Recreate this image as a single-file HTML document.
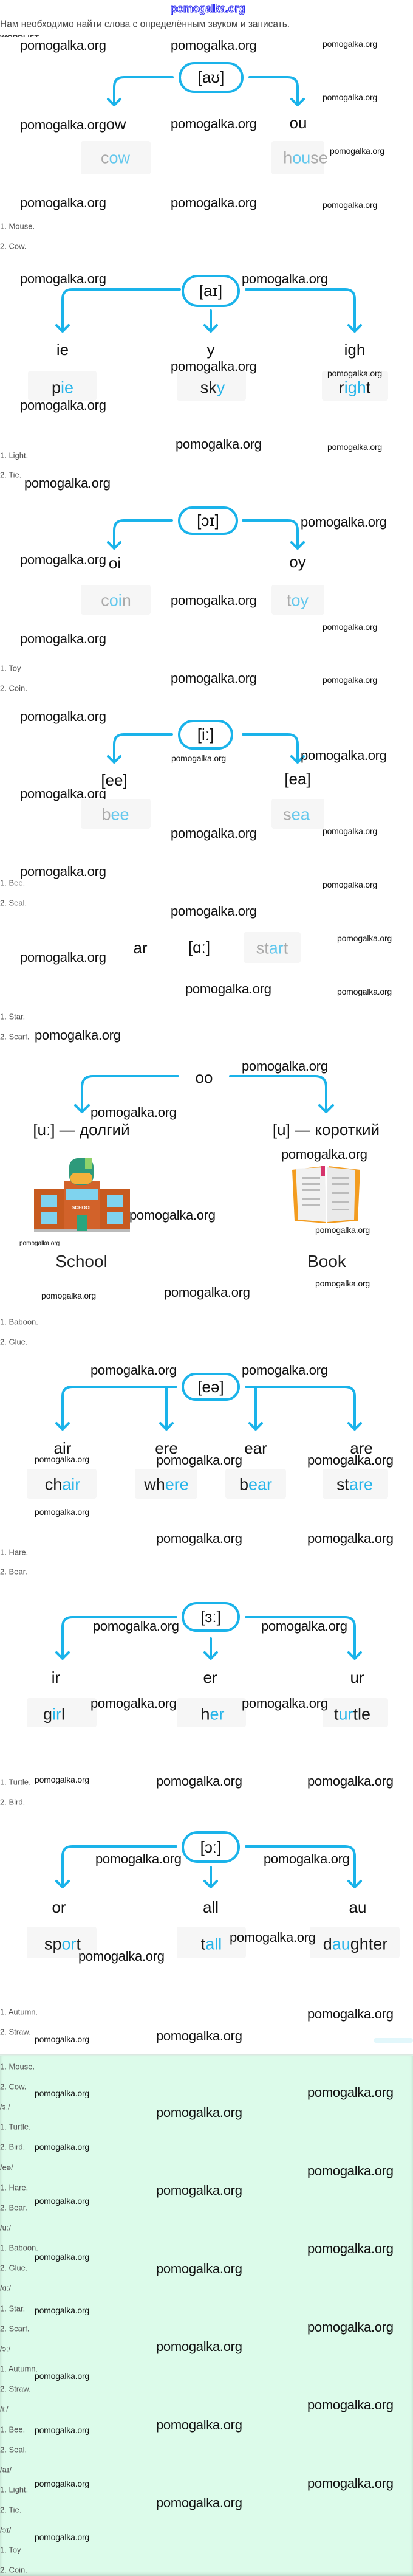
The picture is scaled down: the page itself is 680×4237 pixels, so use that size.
<!DOCTYPE html>
<html><head><meta charset="utf-8">
<style>
*{margin:0;padding:0;box-sizing:border-box}
body{width:680px;height:4237px;position:relative;background:#fff;font-family:"Liberation Sans",sans-serif;overflow:hidden}
.mint{position:absolute;left:0;top:3381px;width:680px;height:856px;background:#dcfbea;box-shadow:0 -3px 6px rgba(0,0,0,.15) inset}
.sh{position:absolute;left:0;top:3378px;width:680px;height:4px;background:linear-gradient(#ddd,#dcfbea)}
.t{position:absolute;transform:translate(-50%,-50%);white-space:nowrap;line-height:1}
.l{position:absolute;transform:translateY(-50%);white-space:nowrap;line-height:1}
.W{font-size:22px;letter-spacing:-0.3px;color:#111}
.w{font-size:14px;color:#111;letter-spacing:-0.2px}
.tw{font-size:10px;color:#111}
.p{font-size:13px;color:#555}
.lab{font-size:26px;color:#111}
.box{position:absolute;background:#f6f6f6;border-radius:4px}
.bw{font-size:27px;color:#1b1b1b}
.g{color:#aaa}
.b{color:#27b5ea}
.pill{position:absolute;border:4px solid #1ab3ea;border-radius:30px;display:flex;align-items:center;justify-content:center;font-size:26px;color:#111;background:#fff}
</style></head><body>

<div class="mint"></div>
<div class="sh"></div>

<svg style="position:absolute;left:0;top:0" width="680" height="4237" fill="none" stroke="#1ab3ea" stroke-width="4" stroke-linecap="round" stroke-linejoin="round">
<!-- S1 -->
<path d="M284 127 H204 Q188 127 188 143 V173 M178 163 L188 173 L198 163"/>
<path d="M411 127 H474 Q490 127 490 143 V173 M480 163 L490 173 L500 163"/>
<!-- S2 -->
<path d="M296 476 H119 Q103 476 103 492 V545 M93 535 L103 545 L113 535"/>
<path d="M405 476 H568 Q584 476 584 492 V545 M574 535 L584 545 L594 535"/>
<path d="M347 511 V545 M337 535 L347 545 L357 535"/>
<!-- S3 -->
<path d="M283 856 H204 Q188 856 188 872 V902 M178 892 L188 902 L198 892"/>
<path d="M400 856 H474 Q490 856 490 872 V902 M480 892 L490 902 L500 892"/>
<!-- S4 -->
<path d="M283 1208 H204 Q188 1208 188 1224 V1254 M178 1244 L188 1254 L198 1244"/>
<path d="M400 1208 H474 Q490 1208 490 1224 V1254 M480 1244 L490 1254 L500 1244"/>
<!-- S5 oo -->
<path d="M293 1770 H153 Q135 1770 135 1788 V1829 M124 1818 L135 1829 L146 1818"/>
<path d="M379 1770 H519 Q537 1770 537 1788 V1829 M526 1818 L537 1829 L548 1818"/>
<!-- S6 -->
<path d="M290 2281 H119 Q103 2281 103 2297 V2351 M93 2341 L103 2351 L113 2341"/>
<path d="M274 2281 V2351 M264 2341 L274 2351 L284 2341"/>
<path d="M405 2281 H568 Q584 2281 584 2297 V2351 M574 2341 L584 2351 L594 2341"/>
<path d="M421 2281 V2351 M411 2341 L421 2351 L431 2341"/>
<!-- S7 -->
<path d="M290 2660 H119 Q103 2660 103 2676 V2728 M93 2718 L103 2728 L113 2718"/>
<path d="M405 2660 H568 Q584 2660 584 2676 V2728 M574 2718 L584 2728 L594 2718"/>
<path d="M347 2695 V2728 M337 2718 L347 2728 L357 2718"/>
<!-- S8 -->
<path d="M290 3037 H119 Q103 3037 103 3053 V3104 M93 3094 L103 3104 L113 3094"/>
<path d="M405 3037 H568 Q584 3037 584 3053 V3104 M574 3094 L584 3104 L594 3094"/>
<path d="M347 3071 V3104 M337 3094 L347 3104 L357 3094"/>
</svg>

<!-- header -->
<div class="t" style="left:342px;top:14px;font-size:18px;color:#fff;-webkit-text-stroke:1px #2a2af0;font-weight:bold;letter-spacing:-0.5px">pomogalka.org</div>
<div class="l" style="left:0;top:40px;font-size:15.5px;color:#444">Нам необходимо найти слова с определённым звуком и записать.</div>
<div style="position:absolute;left:0;top:56px;height:5px;overflow:hidden;font-size:12px;font-weight:bold;color:#333;line-height:1">WORDLIST</div>

<!-- S1 -->
<div class="l W" style="left:33px;top:75px">pomogalka.org</div>
<div class="l W" style="left:281px;top:75px">pomogalka.org</div>
<div class="l w" style="left:531px;top:72px">pomogalka.org</div>
<div class="pill" style="left:294px;top:102px;width:107px;height:51px">[aʊ]</div>
<div class="l w" style="left:531px;top:160px">pomogalka.org</div>
<div class="l W" style="left:33px;top:204px">pomogalka.org<span class="lab">ow</span></div>
<div class="l W" style="left:281px;top:204px">pomogalka.org</div>
<div class="t lab" style="left:491px;top:202px">ou</div>
<div class="box" style="left:133px;top:232px;width:115px;height:55px"></div>
<div class="t bw" style="left:190px;top:260px"><span class="g">c</span><span class="b" style="opacity:.7">ow</span></div>
<div class="box" style="left:447px;top:232px;width:87px;height:55px"></div>
<div class="t bw" style="left:503px;top:260px"><span class="g">h</span><span class="b" style="opacity:.7">ou</span><span class="g">se</span></div>
<div class="l w" style="left:543px;top:248px">pomogalka.org</div>
<div class="l W" style="left:33px;top:334px">pomogalka.org</div>
<div class="l W" style="left:281px;top:334px">pomogalka.org</div>
<div class="l w" style="left:531px;top:337px">pomogalka.org</div>
<div class="l p" style="left:0;top:372px">1. Mouse.</div>
<div class="l p" style="left:0;top:405px">2. Cow.</div>

<!-- S2 -->
<div class="l W" style="left:33px;top:459px">pomogalka.org</div>
<div class="l W" style="left:398px;top:459px">pomogalka.org</div>
<div class="pill" style="left:299px;top:452px;width:96px;height:53px">[aɪ]</div>
<div class="t lab" style="left:103px;top:575px">ie</div>
<div class="t lab" style="left:347px;top:575px">y</div>
<div class="t lab" style="left:584px;top:575px">igh</div>
<div class="box" style="left:46px;top:610px;width:113px;height:49px"></div>
<div class="box" style="left:291px;top:610px;width:114px;height:49px"></div>
<div class="box" style="left:530px;top:610px;width:109px;height:49px"></div>
<div class="t bw" style="left:103px;top:638px">p<span class="b">ie</span></div>
<div class="t bw" style="left:350px;top:638px">sk<span class="b">y</span></div>
<div class="t bw" style="left:584px;top:638px">r<span class="b">igh</span>t</div>
<div class="l W" style="left:281px;top:603px">pomogalka.org</div>
<div class="l w" style="left:539px;top:614px">pomogalka.org</div>
<div class="l W" style="left:33px;top:667px">pomogalka.org</div>
<div class="l W" style="left:289px;top:731px">pomogalka.org</div>
<div class="l w" style="left:539px;top:735px">pomogalka.org</div>
<div class="l p" style="left:0;top:749px">1. Light.</div>
<div class="l p" style="left:0;top:781px">2. Tie.</div>
<div class="l W" style="left:40px;top:795px">pomogalka.org</div>

<!-- S3 -->
<div class="pill" style="left:293px;top:833px;width:99px;height:47px">[ɔɪ]</div>
<div class="l W" style="left:495px;top:859px">pomogalka.org</div>
<div class="l W" style="left:33px;top:921px">pomogalka.org</div>
<div class="t lab" style="left:189px;top:926px">oi</div>
<div class="t lab" style="left:490px;top:924px">oy</div>
<div class="box" style="left:133px;top:962px;width:115px;height:49px"></div>
<div class="box" style="left:447px;top:962px;width:87px;height:49px"></div>
<div class="t bw" style="left:191px;top:988px"><span class="g">c</span><span class="b" style="opacity:.7">oi</span><span class="g">n</span></div>
<div class="t bw" style="left:490px;top:988px"><span class="g">t</span><span class="b" style="opacity:.7">oy</span></div>
<div class="l W" style="left:281px;top:988px">pomogalka.org</div>
<div class="l w" style="left:531px;top:1031px">pomogalka.org</div>
<div class="l W" style="left:33px;top:1051px">pomogalka.org</div>
<div class="l p" style="left:0;top:1099px">1. Toy</div>
<div class="l W" style="left:281px;top:1116px">pomogalka.org</div>
<div class="l w" style="left:531px;top:1118px">pomogalka.org</div>
<div class="l p" style="left:0;top:1132px">2. Coin.</div>

<!-- S4 -->
<div class="l W" style="left:33px;top:1179px">pomogalka.org</div>
<div class="pill" style="left:293px;top:1184px;width:91px;height:49px">[iː]</div>
<div class="l w" style="left:282px;top:1247px">pomogalka.org</div>
<div class="l W" style="left:495px;top:1243px">pomogalka.org</div>
<div class="t lab" style="left:188px;top:1283px">[ee]</div>
<div class="t lab" style="left:490px;top:1281px">[ea]</div>
<div class="l W" style="left:33px;top:1306px">pomogalka.org</div>
<div class="box" style="left:133px;top:1314px;width:115px;height:49px"></div>
<div class="box" style="left:447px;top:1314px;width:87px;height:49px"></div>
<div class="t bw" style="left:190px;top:1340px"><span class="g">b</span><span class="b" style="opacity:.7">ee</span></div>
<div class="t bw" style="left:488px;top:1340px"><span class="g">s</span><span class="b" style="opacity:.7">ea</span></div>
<div class="l W" style="left:281px;top:1371px">pomogalka.org</div>
<div class="l w" style="left:531px;top:1367px">pomogalka.org</div>
<div class="l W" style="left:33px;top:1434px">pomogalka.org</div>
<div class="l p" style="left:0;top:1452px">1. Bee.</div>
<div class="l w" style="left:531px;top:1455px">pomogalka.org</div>
<div class="l p" style="left:0;top:1485px">2. Seal.</div>
<div class="l W" style="left:281px;top:1499px">pomogalka.org</div>

<!-- ar -->
<div class="t lab" style="left:231px;top:1559px">ar</div>
<div class="t lab" style="left:328px;top:1558px">[ɑː]</div>
<div class="box" style="left:401px;top:1533px;width:94px;height:51px"></div>
<div class="t bw" style="left:448px;top:1560px"><span class="g">st</span><span class="b" style="opacity:.7">ar</span><span class="g">t</span></div>
<div class="l w" style="left:555px;top:1543px">pomogalka.org</div>
<div class="l W" style="left:33px;top:1575px">pomogalka.org</div>
<div class="l W" style="left:305px;top:1627px">pomogalka.org</div>
<div class="l w" style="left:555px;top:1631px">pomogalka.org</div>
<div class="l p" style="left:0;top:1672px">1. Star.</div>
<div class="l p" style="left:0;top:1705px">2. Scarf.</div>
<div class="l W" style="left:57px;top:1703px">pomogalka.org</div>

<!-- oo -->
<div class="l W" style="left:398px;top:1754px">pomogalka.org</div>
<div class="t lab" style="left:336px;top:1772px;background:#fff;padding:0 4px">oo</div>
<div class="l W" style="left:149px;top:1830px">pomogalka.org</div>
<div class="t lab" style="left:134px;top:1858px">[uː] — долгий</div>
<div class="t lab" style="left:537px;top:1858px">[u] — короткий</div>
<div class="l W" style="left:463px;top:1899px">pomogalka.org</div>
<svg style="position:absolute;left:56px;top:1905px" width="158" height="124" viewBox="0 0 158 124">
 <rect x="0" y="50" width="158" height="70" fill="#c75a1f"/>
 <rect x="50" y="38" width="58" height="82" fill="#d2622a"/>
 <rect x="0" y="116" width="158" height="6" fill="#bbb"/>
 <rect x="58" y="0" width="40" height="44" rx="14" fill="#2e9a7b"/>
 <rect x="84" y="-2" width="12" height="20" fill="#8fd26a"/>
 <rect x="60" y="24" width="36" height="18" rx="8" fill="#f3b13b"/>
 <rect x="52" y="50" width="54" height="18" fill="#7fd3ee"/>
 <text x="79" y="84" font-size="8" fill="#fff" text-anchor="middle" font-family="Liberation Sans" font-weight="bold">SCHOOL</text>
 <rect x="70" y="94" width="18" height="26" fill="#2aa67e"/>
 <rect x="12" y="60" width="26" height="20" fill="#7fd3ee"/><rect x="12" y="88" width="26" height="20" fill="#7fd3ee"/>
 <rect x="120" y="60" width="26" height="20" fill="#7fd3ee"/><rect x="120" y="88" width="26" height="20" fill="#7fd3ee"/>
</svg>
<div class="l W" style="left:213px;top:1999px">pomogalka.org</div>
<svg style="position:absolute;left:477px;top:1916px" width="122" height="100" viewBox="0 0 122 100">
 <path d="M4 8 L56 2 L60 96 L8 92 Z" fill="#f39c1f"/>
 <path d="M64 2 L116 8 L112 92 L62 96 Z" fill="#f39c1f"/>
 <path d="M10 6 L58 4 L60 94 L14 90 Z" fill="#f1f1f1"/>
 <path d="M62 4 L108 8 L106 90 L62 94 Z" fill="#eaeaea"/>
 <rect x="52" y="2" width="6" height="16" fill="#d6336c"/>
 <g fill="#bbb"><rect x="20" y="20" width="30" height="3"/><rect x="20" y="30" width="30" height="3"/><rect x="20" y="40" width="30" height="3"/><rect x="20" y="55" width="30" height="3"/><rect x="20" y="65" width="30" height="3"/><rect x="70" y="20" width="28" height="3"/><rect x="70" y="30" width="28" height="3"/><rect x="70" y="45" width="28" height="3"/><rect x="70" y="60" width="28" height="3"/><rect x="70" y="72" width="28" height="3"/></g>
</svg>
<div class="l w" style="left:519px;top:2023px">pomogalka.org</div>
<div class="l tw" style="left:32px;top:2046px">pomogalka.org</div>
<div class="t" style="left:134px;top:2075px;font-size:28px;color:#222">School</div>
<div class="t" style="left:538px;top:2075px;font-size:28px;color:#222">Book</div>
<div class="l w" style="left:519px;top:2111px">pomogalka.org</div>
<div class="l w" style="left:68px;top:2131px">pomogalka.org</div>
<div class="l W" style="left:270px;top:2126px">pomogalka.org</div>
<div class="l p" style="left:0;top:2174px">1. Baboon.</div>
<div class="l p" style="left:0;top:2207px">2. Glue.</div>

<!-- eə -->
<div class="l W" style="left:149px;top:2254px">pomogalka.org</div>
<div class="l W" style="left:398px;top:2254px">pomogalka.org</div>
<div class="pill" style="left:299px;top:2258px;width:96px;height:46px">[eə]</div>
<div class="t lab" style="left:103px;top:2382px">air</div>
<div class="t lab" style="left:274px;top:2382px">ere</div>
<div class="t lab" style="left:421px;top:2382px">ear</div>
<div class="t lab" style="left:595px;top:2382px">are</div>
<div class="l w" style="left:57px;top:2400px">pomogalka.org</div>
<div class="l W" style="left:257px;top:2402px">pomogalka.org</div>
<div class="l W" style="left:506px;top:2402px">pomogalka.org</div>
<div class="box" style="left:44px;top:2416px;width:115px;height:49px"></div>
<div class="box" style="left:222px;top:2416px;width:103px;height:49px"></div>
<div class="box" style="left:371px;top:2416px;width:100px;height:49px"></div>
<div class="box" style="left:531px;top:2416px;width:108px;height:49px"></div>
<div class="t bw" style="left:103px;top:2442px">ch<span class="b">air</span></div>
<div class="t bw" style="left:274px;top:2442px">wh<span class="b">ere</span></div>
<div class="t bw" style="left:421px;top:2442px">b<span class="b">ear</span></div>
<div class="t bw" style="left:584px;top:2442px">st<span class="b">are</span></div>
<div class="l w" style="left:57px;top:2487px">pomogalka.org</div>
<div class="l W" style="left:257px;top:2531px">pomogalka.org</div>
<div class="l W" style="left:506px;top:2531px">pomogalka.org</div>
<div class="l p" style="left:0;top:2553px">1. Hare.</div>
<div class="l p" style="left:0;top:2585px">2. Bear.</div>

<!-- ɜː -->
<div class="pill" style="left:299px;top:2635px;width:96px;height:49px">[ɜː]</div>
<div class="l W" style="left:153px;top:2675px">pomogalka.org</div>
<div class="l W" style="left:430px;top:2675px">pomogalka.org</div>
<div class="t lab" style="left:92px;top:2759px">ir</div>
<div class="t lab" style="left:346px;top:2759px">er</div>
<div class="t lab" style="left:588px;top:2759px">ur</div>
<div class="box" style="left:44px;top:2793px;width:115px;height:48px"></div>
<div class="box" style="left:291px;top:2793px;width:114px;height:48px"></div>
<div class="box" style="left:531px;top:2793px;width:108px;height:48px"></div>
<div class="t bw" style="left:89px;top:2820px">g<span class="b">ir</span>l</div>
<div class="t bw" style="left:350px;top:2820px">h<span class="b">er</span></div>
<div class="t bw" style="left:580px;top:2820px">t<span class="b">ur</span>tle</div>
<div class="l W" style="left:149px;top:2802px">pomogalka.org</div>
<div class="l W" style="left:398px;top:2802px">pomogalka.org</div>
<div class="l p" style="left:0;top:2931px">1. Turtle.</div>
<div class="l w" style="left:57px;top:2927px">pomogalka.org</div>
<div class="l W" style="left:257px;top:2930px">pomogalka.org</div>
<div class="l W" style="left:506px;top:2930px">pomogalka.org</div>
<div class="l p" style="left:0;top:2964px">2. Bird.</div>

<!-- ɔː -->
<div class="pill" style="left:299px;top:3012px;width:96px;height:52px">[ɔː]</div>
<div class="l W" style="left:157px;top:3058px">pomogalka.org</div>
<div class="l W" style="left:434px;top:3058px">pomogalka.org</div>
<div class="t lab" style="left:97px;top:3137px">or</div>
<div class="t lab" style="left:347px;top:3137px">all</div>
<div class="t lab" style="left:589px;top:3137px">au</div>
<div class="box" style="left:44px;top:3169px;width:115px;height:52px"></div>
<div class="box" style="left:291px;top:3169px;width:114px;height:52px"></div>
<div class="box" style="left:510px;top:3169px;width:148px;height:52px"></div>
<div class="t bw" style="left:103px;top:3198px">sp<span class="b">or</span>t</div>
<div class="t bw" style="left:348px;top:3198px">t<span class="b">all</span></div>
<div class="t bw" style="left:585px;top:3198px">d<span class="b">au</span>ghter</div>
<div class="l W" style="left:129px;top:3218px">pomogalka.org</div>
<div class="l W" style="left:378px;top:3187px">pomogalka.org</div>
<div class="l p" style="left:0;top:3309px">1. Autumn.</div>
<div class="l W" style="left:506px;top:3313px">pomogalka.org</div>
<div class="l p" style="left:0;top:3342px">2. Straw.</div>
<div class="l W" style="left:257px;top:3349px">pomogalka.org</div>
<div class="l w" style="left:57px;top:3354px">pomogalka.org</div>
<div style="position:absolute;left:615px;top:3352px;width:65px;height:8px;background:#e2f7fb;border-radius:4px"></div>

<!-- final list -->
<div class="l p" style="left:0;top:3399px">1. Mouse.</div>
<div class="l p" style="left:0;top:3432px">2. Cow.</div>
<div class="l p" style="left:0;top:3465px">/ɜː/</div>
<div class="l p" style="left:0;top:3498px">1. Turtle.</div>
<div class="l p" style="left:0;top:3531px">2. Bird.</div>
<div class="l p" style="left:0;top:3565px">/eə/</div>
<div class="l p" style="left:0;top:3598px">1. Hare.</div>
<div class="l p" style="left:0;top:3631px">2. Bear.</div>
<div class="l p" style="left:0;top:3664px">/uː/</div>
<div class="l p" style="left:0;top:3697px">1. Baboon.</div>
<div class="l p" style="left:0;top:3730px">2. Glue.</div>
<div class="l p" style="left:0;top:3763px">/ɑː/</div>
<div class="l p" style="left:0;top:3797px">1. Star.</div>
<div class="l p" style="left:0;top:3830px">2. Scarf.</div>
<div class="l p" style="left:0;top:3863px">/ɔː/</div>
<div class="l p" style="left:0;top:3896px">1. Autumn.</div>
<div class="l p" style="left:0;top:3929px">2. Straw.</div>
<div class="l p" style="left:0;top:3962px">/iː/</div>
<div class="l p" style="left:0;top:3996px">1. Bee.</div>
<div class="l p" style="left:0;top:4029px">2. Seal.</div>
<div class="l p" style="left:0;top:4062px">/aɪ/</div>
<div class="l p" style="left:0;top:4095px">1. Light.</div>
<div class="l p" style="left:0;top:4128px">2. Tie.</div>
<div class="l p" style="left:0;top:4161px">/ɔɪ/</div>
<div class="l p" style="left:0;top:4194px">1. Toy</div>
<div class="l p" style="left:0;top:4227px">2. Coin.</div>

<div class="l w" style="left:57px;top:3443px">pomogalka.org</div>
<div class="l w" style="left:57px;top:3531px">pomogalka.org</div>
<div class="l w" style="left:57px;top:3620px">pomogalka.org</div>
<div class="l w" style="left:57px;top:3712px">pomogalka.org</div>
<div class="l w" style="left:57px;top:3800px">pomogalka.org</div>
<div class="l w" style="left:57px;top:3908px">pomogalka.org</div>
<div class="l w" style="left:57px;top:3997px">pomogalka.org</div>
<div class="l w" style="left:57px;top:4085px">pomogalka.org</div>
<div class="l w" style="left:57px;top:4173px">pomogalka.org</div>

<div class="l W" style="left:506px;top:3442px">pomogalka.org</div>
<div class="l W" style="left:506px;top:3571px">pomogalka.org</div>
<div class="l W" style="left:506px;top:3699px">pomogalka.org</div>
<div class="l W" style="left:506px;top:3828px">pomogalka.org</div>
<div class="l W" style="left:506px;top:3956px">pomogalka.org</div>
<div class="l W" style="left:506px;top:4085px">pomogalka.org</div>
<div class="l W" style="left:257px;top:3475px">pomogalka.org</div>
<div class="l W" style="left:257px;top:3603px">pomogalka.org</div>
<div class="l W" style="left:257px;top:3732px">pomogalka.org</div>
<div class="l W" style="left:257px;top:3860px">pomogalka.org</div>
<div class="l W" style="left:257px;top:3989px">pomogalka.org</div>
<div class="l W" style="left:257px;top:4117px">pomogalka.org</div>
</body></html>
